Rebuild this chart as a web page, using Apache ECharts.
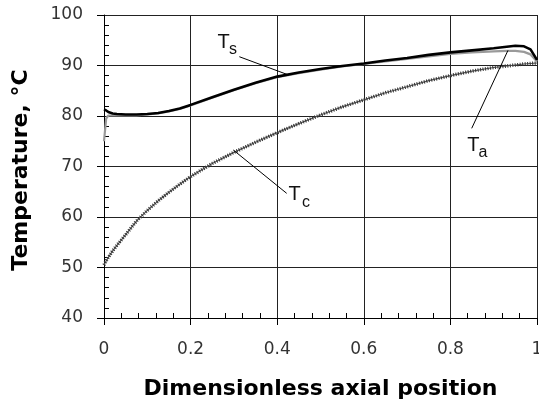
<!DOCTYPE html>
<html>
<head>
<meta charset="utf-8">
<script src="https://cdn.jsdelivr.net/npm/echarts@6/dist/echarts.min.js"></script>
<style>
  html, body { margin: 0; padding: 0; background: #fff; }
  #chart { width: 539px; height: 407px; }
</style>
</head>
<body>
<div id="chart"></div>
<script>
// Axial temperature profiles along the dimensionless position
const axialPos = [0, 0.005, 0.01, 0.02, 0.03, 0.05, 0.075, 0.1, 0.125, 0.15, 0.175, 0.2, 0.25, 0.3, 0.35, 0.4,
                  0.45, 0.5, 0.55, 0.6, 0.65, 0.7, 0.75, 0.8, 0.85, 0.9, 0.93, 0.95, 0.97, 0.985, 1.0];
const tempS = [81.3, 81.1, 80.8, 80.5, 80.4, 80.3, 80.3, 80.4, 80.6, 81.0, 81.5, 82.2, 83.7, 85.2, 86.6, 87.8,
               88.6, 89.3, 89.9, 90.4, 91.0, 91.5, 92.1, 92.6, 93.0, 93.4, 93.7, 93.9, 93.8, 93.2, 91.1];
const tempA = [75.0, 79.5, 80.1, 80.1, 80.1, 80.1, 80.1, 80.3, 80.5, 80.9, 81.4, 82.1, 83.6, 85.1, 86.5, 87.7,
               88.5, 89.2, 89.8, 90.3, 90.8, 91.3, 91.8, 92.3, 92.6, 92.8, 92.9, 92.9, 92.7, 92.2, 90.8];
const tempC = [50.5, 51.3, 52.0, 53.3, 54.4, 56.5, 59.2, 61.3, 63.2, 64.9, 66.5, 68.0, 70.6, 72.8, 74.8, 76.7,
               78.5, 80.2, 81.8, 83.2, 84.6, 85.8, 87.0, 88.0, 88.9, 89.6, 89.9, 90.1, 90.3, 90.4, 90.5];

// Curve annotations (data coordinates): leader lines and letters with subscripts
const leaderLines = [
  [[0.3125, 91.74], [0.427, 88.1]],
  [[0.8492, 77.56], [0.933, 93.0]],
  [[0.4219, 64.69], [0.2986, 73.27]]
];
const noteLetters = [
  [0.2764, 94.55, 'T', 20], [0.2979, 93.07, 's', 16],
  [0.8533, 74.16, 'T', 20], [0.8753, 72.77, 'a', 16],
  [0.4404, 64.36, 'T', 20], [0.4665, 62.77, 'c', 16]
];

const pairs = (ys) => axialPos.map((x, i) => [x, ys[i]]);

const tickFont = { fontFamily: 'DejaVu Sans', fontSize: 17, color: '#333' };
const gridLine = { show: true, lineStyle: { color: '#222', width: 1 } };

const chart = echarts.init(document.getElementById('chart'), null, { renderer: 'canvas' });
chart.setOption({
  animation: false,
  backgroundColor: '#fff',
  grid: { left: 104, right: 2, top: 15, bottom: 89, outerBoundsMode: 'none', containLabel: false },
  xAxis: [
    {
      type: 'value', min: 0, max: 1, interval: 0.2,
      name: 'Dimensionless axial position', nameLocation: 'middle', nameGap: 60,
      nameTextStyle: { fontFamily: 'DejaVu Sans', fontWeight: 'bold', fontSize: 22, color: '#000' },
      axisLine: { show: true, lineStyle: { color: '#000', width: 1 } },
      axisTick: { show: true, inside: false, length: 7, lineStyle: { color: '#000' } },
      axisLabel: Object.assign({ margin: 23, hideOverlap: false }, tickFont),
      splitLine: gridLine
    },
    {
      type: 'value', min: 0, max: 1, interval: 0.2, position: 'bottom',
      axisLine: { show: false }, axisLabel: { show: false },
      axisTick: { show: false, inside: true },
      minorTick: { show: true, splitNumber: 5, length: 5, lineStyle: { color: '#000', width: 1 } },
      splitLine: { show: false }
    }
  ],
  yAxis: [
    {
      type: 'value', min: 40, max: 100, interval: 10,
      axisLine: { show: true, lineStyle: { color: '#000', width: 1 } },
      axisTick: { show: true, inside: false, length: 7, lineStyle: { color: '#000' } },
      axisLabel: Object.assign({ margin: 21 }, tickFont),
      splitLine: gridLine
    },
    {
      type: 'value', min: 40, max: 100, interval: 10, position: 'left',
      axisLine: { show: false }, axisLabel: { show: false },
      axisTick: { show: false, inside: true },
      minorTick: { show: true, splitNumber: 5, length: 5, lineStyle: { color: '#000', width: 1 } },
      splitLine: { show: false }
    }
  ],
  graphic: [{
    type: 'text', x: 21, y: 170, rotation: Math.PI / 2,
    style: {
      text: 'Temperature, °C', font: 'bold 22px "DejaVu Sans"',
      fill: '#000', textAlign: 'center', textVerticalAlign: 'middle'
    }
  }],
  series: [
    {
      // hatched core of the Tc curve
      name: 'Tc', type: 'line', data: pairs(tempC), xAxisIndex: 0, yAxisIndex: 0,
      showSymbol: false,
      lineStyle: { color: '#555', width: 1.2 }, z: 3
    },
    {
      name: 'Tc hatch', type: 'line', data: pairs(tempC), xAxisIndex: 0, yAxisIndex: 0,
      showSymbol: false,
      lineStyle: { color: '#333', width: 3.5, type: [1, 1.5] }, z: 3
    },
    {
      name: 'Ta', type: 'line', data: pairs(tempA), xAxisIndex: 0, yAxisIndex: 0,
      showSymbol: false,
      lineStyle: { color: '#9a9a9a', width: 2.2 }, z: 4
    },
    {
      name: 'Ts', type: 'line', data: pairs(tempS), xAxisIndex: 0, yAxisIndex: 0,
      showSymbol: false,
      lineStyle: { color: '#000', width: 2.6 }, z: 5,
      markLine: {
        silent: true, symbol: ['none', 'none'], animation: false,
        lineStyle: { color: '#000', width: 1, type: 'solid' },
        label: { show: false },
        emphasis: { disabled: true },
        data: leaderLines.map(l => [{ coord: l[0] }, { coord: l[1] }])
      },
      markPoint: {
        silent: true, symbol: 'circle', symbolSize: 1, animation: false,
        itemStyle: { color: 'rgba(0,0,0,0)' },
        data: noteLetters.map(n => ({
          coord: [n[0], n[1]],
          label: {
            show: true, position: 'inside', formatter: n[2],
            fontFamily: 'Liberation Sans', fontSize: n[3], color: '#111'
          }
        }))
      }
    }
  ]
});
</script>
</body>
</html>
